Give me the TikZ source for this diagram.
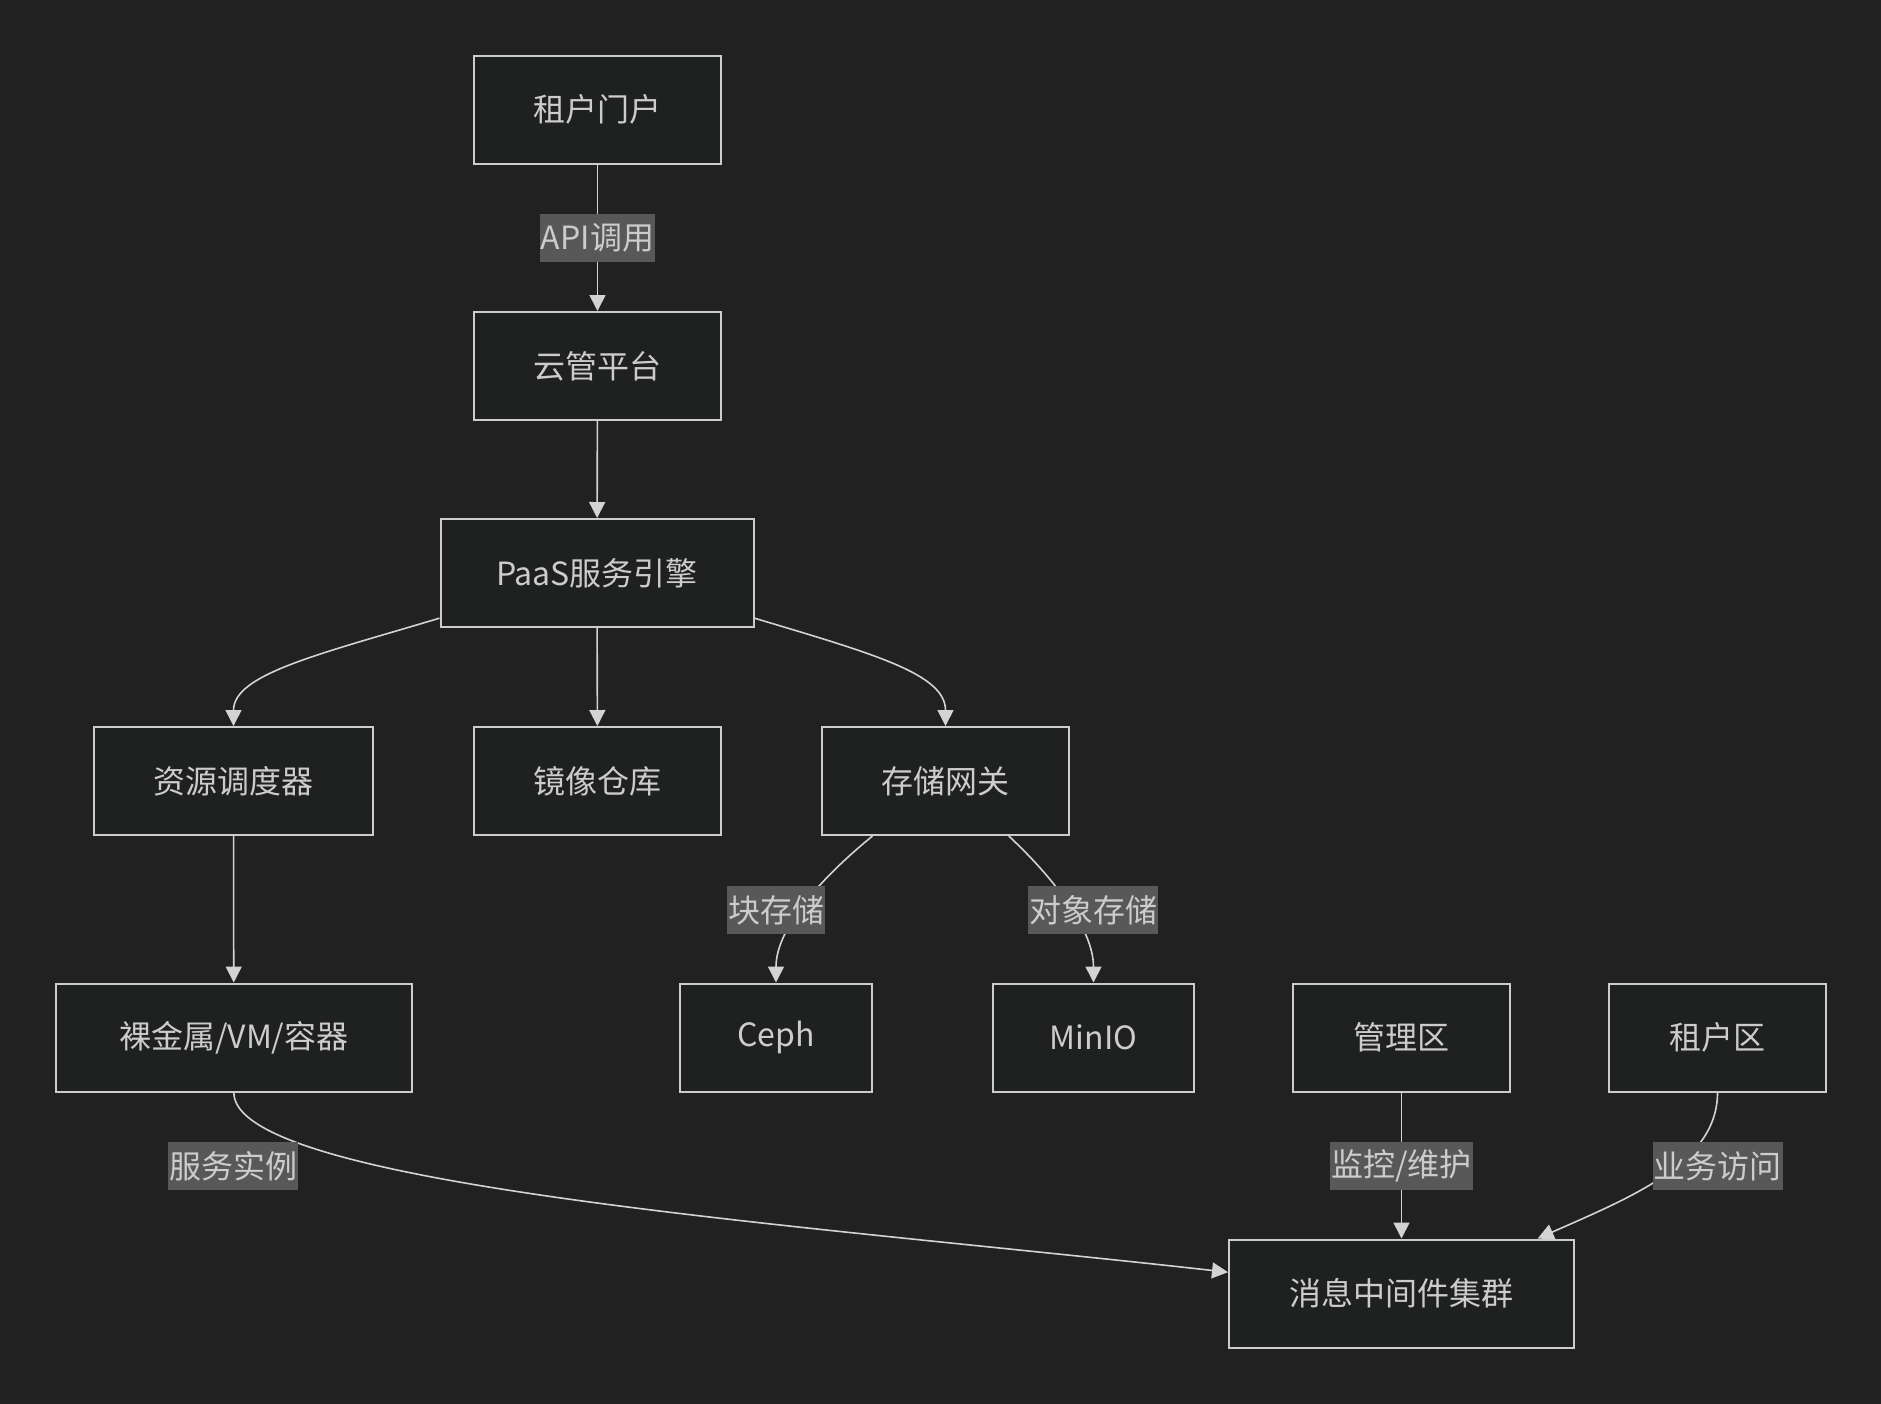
\documentclass[tikz,border=0pt]{standalone}
\usepackage{fontspec}
\setmainfont{Noto Sans CJK SC}
\usetikzlibrary{arrows.meta,positioning}
\definecolor{cloudCanvas}{HTML}{212121}
\definecolor{cloudFill}{HTML}{1F2020}
\definecolor{cloudInk}{HTML}{CCCCCC}
\definecolor{cloudLine}{HTML}{D3D3D3}
\definecolor{cloudTag}{HTML}{585858}
\tikzset{
  nodebox/.style={draw=cloudInk,line width=1pt,fill=cloudFill,text=cloudInk,
    minimum height=54pt,inner sep=0pt,font=\fontsize{16pt}{18pt}\selectfont},
  edgetag/.style={fill=cloudTag,text=cloudInk,inner xsep=0.5pt,inner ysep=0pt,
    minimum height=24pt,font=\fontsize{16pt}{18pt}\selectfont},
  link/.style={draw=cloudLine,line width=0.8pt,-{Triangle[length=8pt,width=8pt]}},
}

\begin{document}
\begin{tikzpicture}[x=0.5pt,y=-0.5pt]
  \fill[cloudCanvas] (0,0) rectangle (1881,1404);

  \node[nodebox,minimum width=123.5pt] (portal)  at (597.5,109.5)  {租户门户};
  \node[nodebox,minimum width=123.5pt] (cloud)   at (597.5,366)    {云管平台};
  \node[nodebox,minimum width=156.5pt] (paas)    at (597,573)      {PaaS服务引擎};
  \node[nodebox,minimum width=139.5pt] (sched)   at (233.5,781)    {资源调度器};
  \node[nodebox,minimum width=123.5pt] (mirror)  at (597.5,781)    {镜像仓库};
  \node[nodebox,minimum width=123.5pt] (gateway) at (945.5,781)    {存储网关};
  \node[nodebox,minimum width=178pt]   (metal)   at (233.8,1037.5) {裸金属/VM/容器};
  \node[nodebox,minimum width=96pt]    (ceph)    at (776,1037.5)   {Ceph};
  \node[nodebox,minimum width=100.5pt] (minio)   at (1093.5,1037.5) {MinIO};
  \node[nodebox,minimum width=108.5pt] (mgmt)    at (1401.5,1037.5) {管理区};
  \node[nodebox,minimum width=108.5pt] (tenant)  at (1717.5,1037.5) {租户区};
  \node[nodebox,minimum width=172.5pt] (bus)     at (1401.5,1293.5) {消息中间件集群};

  \draw[link] (portal) -- node[edgetag] {API调用} (cloud);
  \draw[link] (cloud) -- (paas);
  \draw[link] (paas.196) .. controls +(-120,36) and +(0,-52) .. (sched.north);
  \draw[link] (paas) -- (mirror);
  \draw[link] (paas.-16) .. controls +(120,36) and +(0,-52) .. (gateway.north);
  \draw[link] (sched) -- (metal);
  \draw[link] (gateway.217) .. controls +(-54,44) and +(0,-53) .. (ceph.north);
  \draw[link] (gateway.-41) .. controls +(45,42) and +(0,-53) .. (minio.north);
  \draw[link] (metal.south) .. controls +(0,93) and +(-429,-48) .. (bus.173);
  \draw[link] (mgmt) -- node[edgetag] {监控/维护} (bus);
  \draw[link] (tenant.south) .. controls +(0,70) and +(95,-42) .. (bus.22);

  \node[edgetag] (tagblock)  at (776,910)     {块存储};
  \node[edgetag] (tagobject) at (1093,910)    {对象存储};
  \node[edgetag] (taginst)   at (233,1166)    {服务实例};
  \node[edgetag] (tagbiz)    at (1717.7,1166) {业务访问};
\end{tikzpicture}
\end{document}
